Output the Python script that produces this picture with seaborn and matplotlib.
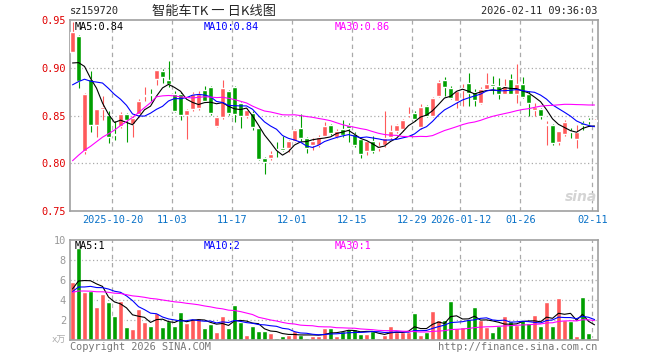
import numpy as np
import pandas as pd
import matplotlib
matplotlib.use("Agg")
import matplotlib.pyplot as plt
import seaborn as sns

sns.set_style("white")
plt.rcParams["font.family"] = ["DejaVu Sans Mono"]

# trading days 2025-10-09 .. 2026-02-11 (new year holiday removed)
dates = pd.bdate_range("2025-10-09", "2026-02-11")
dates = dates[~dates.isin(pd.to_datetime(["2026-01-01", "2026-01-02"]))]

open_ = [0.917, 0.933, 0.813, 0.888, 0.840, 0.857, 0.850, 0.831, 0.839, 0.852,
         0.841, 0.852, 0.870, 0.872, 0.888, 0.897, 0.8875, 0.873, 0.873, 0.8505,
         0.857, 0.858, 0.8765, 0.880, 0.8386, 0.848, 0.876, 0.880, 0.863, 0.849,
         0.853, 0.837, 0.806, 0.805, 0.815, 0.816, 0.816, 0.823, 0.837, 0.826,
         0.819, 0.819, 0.829, 0.840, 0.828, 0.836, 0.840, 0.831, 0.825, 0.813,
         0.823, 0.816, 0.819, 0.827, 0.834, 0.836, 0.851, 0.853, 0.838, 0.860,
         0.850, 0.870, 0.8875, 0.879, 0.865, 0.877, 0.8845, 0.875, 0.8627, 0.878,
         0.8834, 0.881, 0.873, 0.888, 0.873, 0.8834, 0.8724, 0.856, 0.857, 0.840,
         0.840, 0.822, 0.831, 0.833, 0.825, 0.842, 0.845, 0.8445]
high = [0.948, 0.934, 0.874, 0.897, 0.857, 0.870, 0.855, 0.844, 0.854, 0.853,
        0.849, 0.867, 0.880, 0.878, 0.898, 0.899, 0.907, 0.876, 0.875, 0.857,
        0.875, 0.876, 0.881, 0.881, 0.850, 0.887, 0.877, 0.881, 0.864, 0.858,
        0.855, 0.838, 0.807, 0.813, 0.822, 0.829, 0.824, 0.836, 0.852, 0.827,
        0.826, 0.830, 0.843, 0.841, 0.836, 0.845, 0.842, 0.833, 0.826, 0.824,
        0.829, 0.822, 0.855, 0.840, 0.841, 0.846, 0.859, 0.855, 0.862, 0.861,
        0.869, 0.8875, 0.890, 0.881, 0.877, 0.883, 0.894, 0.8776, 0.880, 0.8948,
        0.891, 0.8897, 0.888, 0.893, 0.9035, 0.890, 0.876, 0.8627, 0.858, 0.844,
        0.841, 0.834, 0.845, 0.837, 0.8396, 0.844, 0.8475, 0.846]
low = [0.916, 0.879, 0.810, 0.833, 0.828, 0.845, 0.821, 0.824, 0.837, 0.822,
       0.827, 0.848, 0.865, 0.865, 0.882, 0.884, 0.880, 0.854, 0.845, 0.825,
       0.855, 0.856, 0.864, 0.851, 0.8375, 0.846, 0.851, 0.843, 0.837, 0.847,
       0.835, 0.803, 0.789, 0.803, 0.807, 0.8125, 0.812, 0.822, 0.823, 0.811,
       0.814, 0.817, 0.827, 0.830, 0.826, 0.828, 0.822, 0.817, 0.806, 0.809,
       0.811, 0.813, 0.817, 0.825, 0.832, 0.834, 0.848, 0.844, 0.836, 0.848,
       0.848, 0.869, 0.870, 0.867, 0.858, 0.860, 0.860, 0.860, 0.862, 0.877,
       0.872, 0.867, 0.8724, 0.8724, 0.8627, 0.868, 0.849, 0.849, 0.846, 0.819,
       0.819, 0.819, 0.829, 0.826, 0.8155, 0.8345, 0.841, 0.844]
close = [0.937, 0.886, 0.873, 0.840, 0.857, 0.859, 0.8275, 0.830, 0.852, 0.845,
         0.847, 0.865, 0.871, 0.871, 0.8975, 0.890, 0.8835, 0.855, 0.851, 0.856,
         0.873, 0.8725, 0.865, 0.853, 0.848, 0.879, 0.853, 0.852, 0.849, 0.856,
         0.838, 0.804, 0.801, 0.810, 0.814, 0.8135, 0.823, 0.835, 0.826, 0.816,
         0.823, 0.828, 0.839, 0.832, 0.834, 0.830, 0.837, 0.819, 0.810, 0.823,
         0.813, 0.818, 0.826, 0.834, 0.840, 0.845, 0.852, 0.846, 0.859, 0.850,
         0.868, 0.8846, 0.880, 0.868, 0.876, 0.879, 0.874, 0.866, 0.878, 0.8834,
         0.881, 0.873, 0.881, 0.873, 0.8828, 0.869, 0.8627, 0.859, 0.849, 0.841,
         0.8207, 0.8338, 0.8427, 0.8325, 0.8327, 0.8405, 0.844, 0.8455]
volume = [5.83, 9.17, 4.83, 4.9, 3.33, 4.57, 3.83, 2.4, 3.93, 1.33,
          1.1, 3.13, 1.83, 1.4, 2.73, 1.33, 1.9, 1.4, 2.8, 1.7,
          2.07, 2.2, 1.23, 1.6, 0.83, 2.4, 1.23, 3.5, 1.83, 0.5,
          1.4, 0.93, 0.93, 0.73, 0.23, 0.4, 0.5, 0.9, 0.5, 0.23,
          0.4, 0.4, 1.23, 1.23, 0.4, 0.9, 1.1, 1.1, 0.6, 0.6,
          0.9, 0.2, 0.5, 1.4, 0.83, 0.83, 0.83, 2.73, 0.5, 0.83,
          2.93, 2.0, 2.0, 3.93, 1.23, 1.33, 2.07, 3.33, 2.0, 1.33,
          0.83, 1.4, 2.4, 1.93, 1.5, 2.0, 1.67, 2.5, 1.43, 3.83,
          1.4, 4.2, 2.0, 1.9, 0.4, 4.33, 0.73, 0.23]

# closes / volumes before the window, estimated from where the MA lines start
prior_close = [0.712, 0.715, 0.718, 0.713, 0.716, 0.720, 0.714, 0.711, 0.717, 0.719,
               0.715, 0.713, 0.716, 0.712, 0.861, 0.872, 0.868, 0.880, 0.876, 0.889,
               0.852, 0.848, 0.861, 0.866, 0.869, 0.884, 0.893, 0.902, 0.909]
prior_volume = [5.2, 4.9, 5.4, 5.0, 4.7, 5.3, 5.1, 4.8, 5.0, 4.6,
                4.9, 4.4, 4.7, 4.5, 4.3, 4.6, 4.2, 4.4, 4.5, 4.1,
                4.6, 4.8, 4.3, 4.5, 4.7, 5.2, 4.6, 5.0, 4.9]

tick_dates = ["2025-10-20", "2025-11-03", "2025-11-17", "2025-12-01", "2025-12-15",
              "2025-12-29", "2026-01-12", "2026-01-26", "2026-02-11"]
tick_labels = ["2025-10-20", "11-03", "11-17", "12-01", "12-15",
               "12-29", "2026-01-12", "01-26", "02-11"]

RED, GREEN = "#ff5a5a", "#009f00"
ma_colors = {5: "black", 10: "#0000ff", 30: "#ff00ff"}

n = len(close)
idx = np.arange(n)
o, h, l, c, v = map(np.array, (open_, high, low, close, volume))
up = c >= o
colors = np.where(up, RED, GREEN)

cs = pd.Series(prior_close + close)
vs = pd.Series(prior_volume + volume)
ma = {k: cs.rolling(k).mean().values[-n:] for k in (5, 10, 30)}
vma = {k: vs.rolling(k).mean().values[-n:] for k in (5, 10, 30)}

W, H = 660, 360
fig = plt.figure(figsize=(W / 100, H / 100), dpi=100)
ax = fig.add_axes([70 / W, 1 - 211 / H, 528 / W, 191 / H])
axv = fig.add_axes([70 / W, 1 - 340 / H, 528 / W, 100 / H])

tick_pos = [int(np.where(dates == pd.Timestamp(d))[0][0]) - 0.35 for d in tick_dates]

for a in (ax, axv):
    a.set_xlim(-0.42, n - 0.42)
    for x in tick_pos:
        a.axvline(x, color="#aaaaaa", lw=0.9, ls=(0, (3.5, 3)), zorder=0)
    for s in a.spines.values():
        s.set_color("#a0a0a0")
        s.set_linewidth(1.2)

# main panel
for y in (0.80, 0.85, 0.90):
    ax.axhline(y, color="#aaaaaa", lw=0.9, ls=(0, (1, 2)), zorder=0)
ax.vlines(idx, l, h, colors=colors, lw=0.8, zorder=2)
body = np.maximum(np.abs(c - o), 0.0009)
ax.bar(idx, body, bottom=np.minimum(o, c), width=0.78, color=colors, zorder=3)
for k, col in ma_colors.items():
    sns.lineplot(x=idx, y=ma[k], ax=ax, color=col, lw=0.8, zorder=4)
ax.set_ylim(0.75, 0.95)
ax.set_yticks([0.75, 0.80, 0.85, 0.90, 0.95])
ax.set_yticklabels([f"{t:.2f}" for t in ax.get_yticks()])
ax.tick_params(axis="y", length=0, pad=3, labelsize=7.4, labelcolor="#e00000")
ax.set_xticks(tick_pos)
ax.set_xticklabels(tick_labels)
ax.tick_params(axis="x", length=0, pad=3, labelsize=7.4, labelcolor="#0a72c8")
ax.set_xlabel("")
ax.set_ylabel("")

# volume panel
for y in (2, 4, 6, 8):
    axv.axhline(y, color="#aaaaaa", lw=0.9, ls=(0, (1, 2)), zorder=0)
axv.bar(idx, v, width=0.78, color=colors, zorder=2)
for k, col in ma_colors.items():
    sns.lineplot(x=idx, y=vma[k], ax=axv, color=col, lw=0.8, zorder=4)
axv.set_ylim(0, 10)
axv.set_yticks([2, 4, 6, 8, 10])
axv.tick_params(axis="y", length=0, pad=3, labelsize=7.4, labelcolor="#999999")
axv.set_xticks(tick_pos)
axv.set_xticklabels([])
axv.tick_params(axis="x", length=0)
axv.set_xlabel("")
axv.set_ylabel("")


def px(x, y):
    return x / W, 1 - y / H


cjk = ["Noto Sans CJK SC", "DejaVu Sans"]
fs = 7.4
fig.text(*px(70, 11), "sz159720", fontsize=fs, va="center")
fig.text(*px(214, 11), "智能车TK 一 日K线图", fontsize=9.5, ha="center", va="center", family=cjk)
fig.text(*px(597, 11), "2026-02-11 09:36:03", fontsize=fs, ha="right", va="center")

fig.text(*px(75, 27), f"MA5:{ma[5][-1]:.2f}", fontsize=fs, va="center", color="black")
fig.text(*px(204, 27), f"MA10:{ma[10][-1]:.2f}", fontsize=fs, va="center", color="#0000ff")
fig.text(*px(335, 27), f"MA30:{ma[30][-1]:.2f}", fontsize=fs, va="center", color="#ff00ff")

fig.text(*px(75, 246), f"MA5:{int(vma[5][-1])}", fontsize=fs, va="center", color="black")
fig.text(*px(204, 246), f"MA10:{int(vma[10][-1])}", fontsize=fs, va="center", color="#0000ff")
fig.text(*px(335, 246), f"MA30:{int(vma[30][-1])}", fontsize=fs, va="center", color="#ff00ff")

fig.text(*px(66, 340), "x万", fontsize=6.5, ha="right", va="center", color="#aaaaaa", family=["DejaVu Sans Mono", "Noto Sans CJK SC"])
fig.text(*px(70, 347), "Copyright 2026 SINA.COM", fontsize=fs, va="center", color="#777777")
fig.text(*px(597, 347), "http://finance.sina.com.cn", fontsize=fs, ha="right", va="center", color="#777777")

# faint sina watermark
fig.text(*px(581, 197), "sina", fontsize=10, ha="center", va="center", color="#d4d4d4",
         style="italic", weight="bold", family="DejaVu Sans")

fig.savefig("out.png", dpi=100)
